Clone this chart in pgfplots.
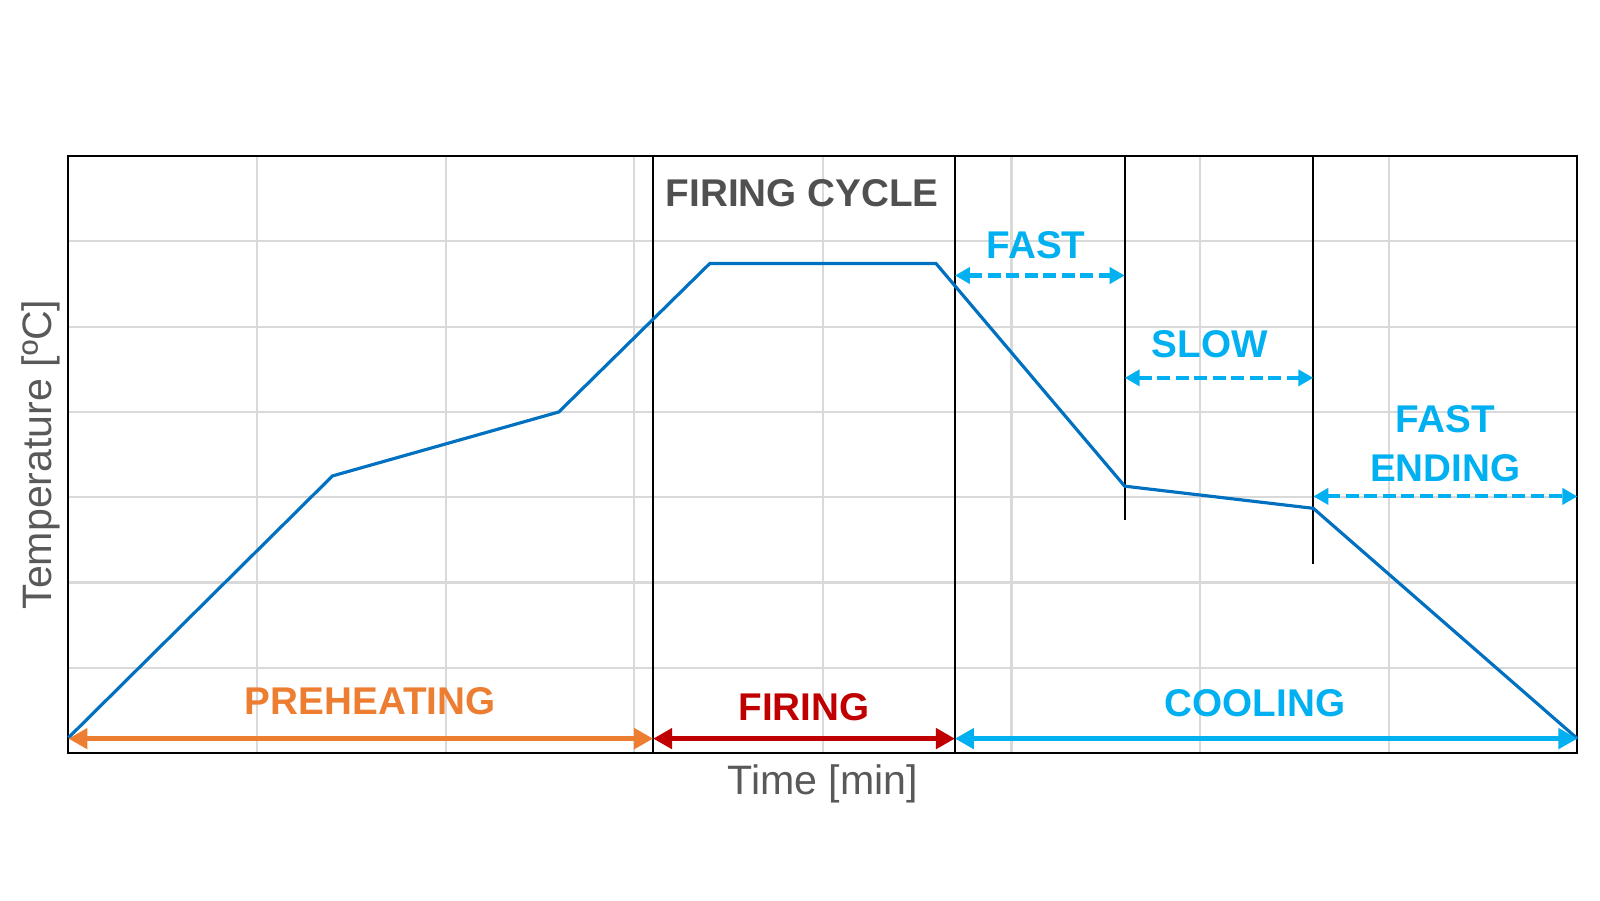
\documentclass[border=0pt]{standalone}
\usepackage{pgfplots}
\pgfplotsset{compat=1.18}
\usepackage{fontspec}
\setmainfont{Liberation Sans}
\usetikzlibrary{arrows.meta}

\definecolor{curveblue}{HTML}{0070C0}
\definecolor{coolblue}{HTML}{00B0F0}
\definecolor{preorange}{HTML}{ED7D31}
\definecolor{firered}{HTML}{C00000}
\definecolor{textgray}{HTML}{595959}
\definecolor{titlegray}{HTML}{505050}
\definecolor{gridgray}{HTML}{D9D9D9}

% kiln temperature profile (relative units, grid spacing = 1)
\pgfplotstableread{
x    y
0.0  0.18
1.4  3.25
2.6  4.00
3.4  5.74
4.6  5.74
5.6  3.13
6.6  2.87
8.0  0.17
}\profile

\tikzset{
  bigtip/.style={arrows={Triangle[length=0.19cm,width=0.20cm]-Triangle[length=0.19cm,width=0.20cm]}},
  smalltip/.style={arrows={Triangle[length=0.15cm,width=0.16cm]-Triangle[length=0.15cm,width=0.16cm]}},
  subphase/.style={coolblue, line width=1.15pt, mark=none, dash pattern=on 0.13cm off 0.055cm, smalltip},
  phase/.style={font=\bfseries\fontsize{11}{13}\selectfont, anchor=center},
}

\begin{document}
\begin{tikzpicture}
\path[use as bounding box] (-0.684cm,-1.47cm) rectangle (15.316cm,7.531cm);
\begin{axis}[
  at={(0,0)}, anchor=south west,
  scale only axis, width=15.09cm, height=5.97cm,
  xmin=0, xmax=8, ymin=0, ymax=7,
  xtick={1,...,7}, ytick={1,...,6},
  xticklabels={}, yticklabels={},
  major tick length=0pt,
  grid=major,
  grid style={line width=0.6pt, draw=gridgray},
  axis line style={line width=0.6pt, black},
  clip=false,
  xlabel={Time [min]},
  ylabel={Temperature [ºC]},
  label style={font=\fontsize{11.7}{14}\selectfont, text=textgray},
  xlabel style={at={(axis description cs:0.5,-0.0519)}, anchor=center},
  ylabel style={at={(axis description cs:-0.0183,0.5)}, anchor=center},
]
% phase separators
\addplot[black, line width=0.55pt, mark=none] coordinates {(3.1,0) (3.1,7)};
\addplot[black, line width=0.55pt, mark=none] coordinates {(4.7,0) (4.7,7)};
\addplot[black, line width=0.55pt, mark=none] coordinates {(5.6,2.73) (5.6,7)};
\addplot[black, line width=0.55pt, mark=none] coordinates {(6.6,2.22) (6.6,7)};

% temperature curve
\addplot[curveblue, line width=0.9pt, mark=none] table[x=x, y=y] {\profile};

% main phases
\addplot[preorange, line width=1.4pt, mark=none, bigtip] coordinates {(0,0.17) (3.1,0.17)};
\addplot[firered, line width=1.4pt, mark=none, bigtip] coordinates {(3.1,0.17) (4.7,0.17)};
\addplot[coolblue, line width=1.4pt, mark=none, bigtip] coordinates {(4.7,0.17) (8,0.17)};

% cooling sub-phases
\addplot[subphase] coordinates {(4.7,5.6) (5.6,5.6)};
\addplot[subphase] coordinates {(5.6,4.40) (6.6,4.40)};
\addplot[subphase] coordinates {(6.6,3.01) (8,3.01)};

% labels
\node[phase, text=preorange] at (axis cs:1.6,0.61) {PREHEATING};
\node[phase, text=firered] at (axis cs:3.9,0.54) {FIRING};
\node[phase, text=coolblue] at (axis cs:6.29,0.59) {COOLING};
\node[phase, text=titlegray] at (axis cs:3.89,6.57) {FIRING CYCLE};
\node[phase, text=coolblue] at (axis cs:5.13,5.96) {FAST};
\node[phase, text=coolblue] at (axis cs:6.05,4.80) {SLOW};
\node[phase, text=coolblue] at (axis cs:7.30,3.91) {FAST};
\node[phase, text=coolblue] at (axis cs:7.30,3.34) {ENDING};
\end{axis}
\end{tikzpicture}
\end{document}
